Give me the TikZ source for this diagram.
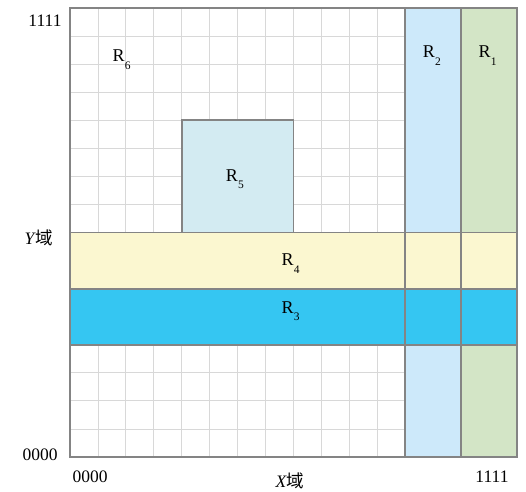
\documentclass[tikz,border=0pt]{standalone}
\usepackage{fontspec}
\setmainfont{Liberation Serif}
\newfontfamily\cjk{Noto Sans CJK SC}
\definecolor{gridc}{HTML}{D8D8D8}
\definecolor{edgec}{HTML}{848484}
\definecolor{rone}{HTML}{D3E5C6}
\definecolor{rtwo}{HTML}{CDE9FA}
\definecolor{rthree}{HTML}{35C6F2}
\definecolor{rfour}{HTML}{FBF7D0}
\definecolor{rfive}{HTML}{D3EBF2}
\newcommand\Rlab[1]{R\kern0.3pt\raisebox{-0.42em}{\fontsize{11.5}{11.5}\selectfont #1}}
\tikzset{
  lab/.style={font=\fontsize{17.5}{17.5}\selectfont, inner sep=0pt},
  rlab/.style={font=\fontsize{18}{18}\selectfont, inner sep=0pt},
  edge/.style={draw=edgec, line width=1.9pt},
  gridline/.style={draw=gridc, line width=0.8pt}
}
\begin{document}
\begin{tikzpicture}[x=1pt,y=-1pt]
\useasboundingbox (0,0) rectangle (526,491);
\fill[white] (0,0) rectangle (526,491);
\begin{scope}[shift={(70,8)}, x=27.9375pt, y=-28.0625pt]
  % grid
  \foreach \i in {1,...,15} {
    \draw[gridline] (\i,0) -- (\i,16);
    \draw[gridline] (0,\i) -- (16,\i);
  }
  % regions
  \fill[rone] (14,0) rectangle (16,16);
  \fill[rtwo] (12,0) rectangle (14,16);
  \fill[rfour] (0,8) rectangle (16,10);
  \fill[rthree] (0,10) rectangle (16,12);
  \fill[rfive] (4,4) rectangle (8,8);
  % borders
  \draw[edge] (4,8) -- (4,4) -- (8,4) -- (8,8);
  \draw[edge] (12,0) -- (12,16);
  \draw[edge] (14,0) -- (14,16);
  \draw[edge] (0,8) -- (16,8);
  \draw[edge] (0,10) -- (16,10);
  \draw[edge] (0,12) -- (16,12);
  \draw[edge] (0,0) rectangle (16,16);
  % region labels
  \node[rlab] (r6) at (1.85,1.85) {\Rlab{6}};
  \node[rlab] (r5) at (5.9,6.1) {\Rlab{5}};
  \node[rlab] (r4) at (7.9,9.1) {\Rlab{4}};
  \node[rlab] (r3) at (7.9,10.8) {\Rlab{3}};
  \node[rlab] (r2) at (12.95,1.7) {\Rlab{2}};
  \node[rlab] (r1) at (14.95,1.7) {\Rlab{1}};
\end{scope}
% axis labels
\node[lab] (ytop) at (45,21) {1111};
\node[lab] (ybot) at (40,455) {0000};
\node[lab] (xleft) at (90,477) {0000};
\node[lab] (xright) at (492,477) {1111};
\node[lab] (ydom) at (39,238) {\textit{Y}{\cjk 域}};
\node[lab] (xdom) at (290,481) {\textit{X}{\cjk 域}};
\end{tikzpicture}
\end{document}
